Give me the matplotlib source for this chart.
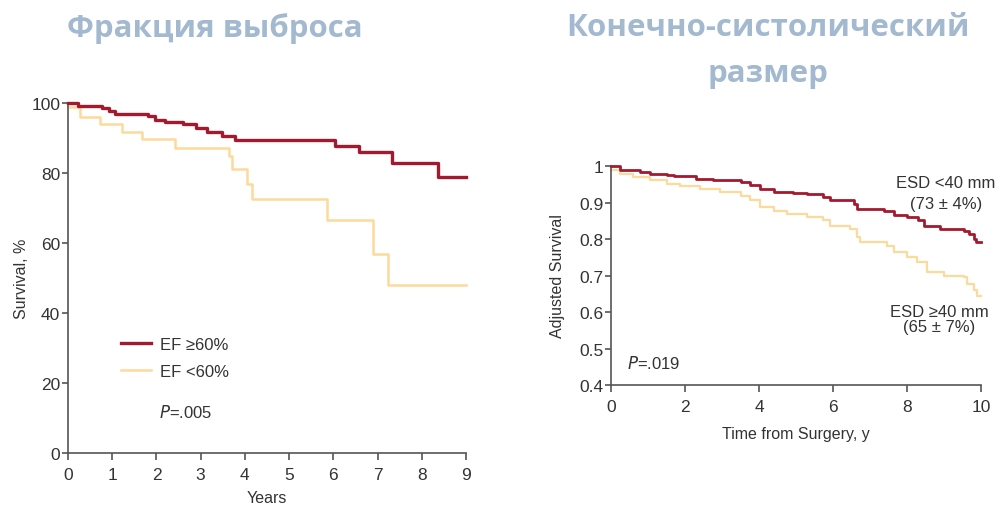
import matplotlib
matplotlib.use('Agg')
import matplotlib.pyplot as plt

plt.rcParams['font.family'] = ['Liberation Sans Narrow', 'Liberation Sans', 'DejaVu Sans']

# Left panel: ejection fraction (Kaplan-Meier steps)
ef_hi_t = [0, 0.22, 0.77, 0.92, 1.07, 1.82, 1.97, 2.2, 2.6, 2.9, 3.14, 3.48, 3.78, 6.04, 6.57, 7.32, 8.37, 9]
ef_hi_s = [100, 99.2, 98.6, 97.8, 96.9, 96.2, 95.3, 94.6, 94.0, 93.0, 91.7, 90.6, 89.5, 87.8, 86.0, 83.0, 78.8, 78.8]
ef_lo_t = [0, 0.28, 0.73, 1.22, 1.67, 2.42, 3.63, 3.7, 4.04, 4.15, 5.85, 6.9, 7.24, 9]
ef_lo_s = [98.8, 95.9, 94.0, 91.8, 89.7, 87.3, 85.0, 81.2, 77.0, 72.6, 66.5, 57.0, 47.9, 47.9]

# Right panel: end-systolic dimension (adjusted survival)
esd_lo_t = [0, 0.24, 0.78, 1.05, 1.5, 1.7, 2.3, 2.77, 3.5, 3.76, 4.03, 4.4, 4.93, 5.3, 5.74, 5.92,
            6.56, 6.65, 7.37, 7.64, 8.0, 8.31, 8.45, 8.9, 9.53, 9.67, 9.8, 9.87, 10]
esd_lo_s = [1.0, 0.99, 0.984, 0.979, 0.976, 0.973, 0.965, 0.961, 0.956, 0.949, 0.938, 0.93, 0.926, 0.922,
            0.915, 0.906, 0.897, 0.883, 0.876, 0.866, 0.86, 0.851, 0.837, 0.828, 0.823, 0.814, 0.80, 0.791, 0.791]
esd_hi_t = [0, 0.24, 0.6, 1.05, 1.5, 1.87, 2.4, 2.95, 3.5, 3.76, 4.03, 4.4, 4.75, 5.3, 5.74, 5.92, 6.47,
            6.65, 6.74, 7.46, 7.64, 8.0, 8.27, 8.54, 8.99, 9.53, 9.62, 9.8, 9.89, 10]
esd_hi_s = [0.988, 0.979, 0.97, 0.961, 0.952, 0.945, 0.936, 0.929, 0.919, 0.906, 0.887, 0.878, 0.869,
            0.86, 0.851, 0.837, 0.828, 0.805, 0.791, 0.782, 0.764, 0.75, 0.737, 0.709, 0.70, 0.695, 0.677,
            0.659, 0.645, 0.645]

RED = '#a31a2f'
YEL = '#fdd99b'
AX = '#555555'
TXT = '#333333'
TITLE = '#a2b9d0'

fig = plt.figure(figsize=(10, 5.1), dpi=100)


def style(ax):
    for s in ['top', 'right']:
        ax.spines[s].set_visible(False)
    for s in ['left', 'bottom']:
        ax.spines[s].set_color(AX)
        ax.spines[s].set_linewidth(1.2)
    ax.tick_params(colors=AX, labelcolor=TXT, labelsize=12.5, width=1.2)
    ax.tick_params(axis='x', length=5, pad=5)
    ax.tick_params(axis='y', length=4.5, pad=1)


# left chart
ax1 = fig.add_axes([0.068, 0.1098, 0.398, 0.686])
ax1.step(ef_hi_t, ef_hi_s, where='post', color=RED, lw=2.4, clip_on=False, zorder=3, label='EF ≥60%')
ax1.step(ef_lo_t, ef_lo_s, where='post', color=YEL, lw=1.8, clip_on=False, zorder=2, label='EF <60%')
ax1.set_xlim(0, 9)
ax1.set_ylim(0, 100)
ax1.set_xticks(range(10))
ax1.set_yticks(range(0, 101, 20))
style(ax1)
ax1.set_ylabel('Survival, %', fontsize=11.5, color=TXT, labelpad=2)
ax1.set_xlabel('Years', fontsize=11.5, color=TXT, labelpad=6)
ax1.legend(loc='upper left', bbox_to_anchor=(0.095, 0.375), frameon=False, fontsize=12,
           handlelength=1.8, handletextpad=0.55, labelcolor=TXT, labelspacing=0.75)
ax1.text(0.228, 0.12, '$P$=.005', transform=ax1.transAxes, fontsize=12, color=TXT, va='center')

# right chart
ax2 = fig.add_axes([0.611, 0.2431, 0.370, 0.4294])
ax2.step(esd_lo_t, esd_lo_s, where='post', color=RED, lw=2.0, clip_on=False, zorder=3)
ax2.step(esd_hi_t, esd_hi_s, where='post', color=YEL, lw=1.6, clip_on=False, zorder=2)
ax2.set_xlim(0, 10)
ax2.set_ylim(0.4, 1.0)
ax2.set_xticks(range(0, 11, 2))
ax2.set_yticks([0.4, 0.5, 0.6, 0.7, 0.8, 0.9, 1.0])
ax2.set_yticklabels(['0.4', '0.5', '0.6', '0.7', '0.8', '0.9', '1'])
style(ax2)
ax2.set_ylabel('Adjusted Survival', fontsize=11.5, color=TXT, labelpad=10)
ax2.set_xlabel('Time from Surgery, y', fontsize=11.5, color=TXT, labelpad=9)
ax2.text(0.044, 0.105, '$P$=.019', transform=ax2.transAxes, fontsize=12, color=TXT, va='center')

fig.text(0.946, 0.641, 'ESD <40 mm', fontsize=12, color=TXT, ha='center', va='center')
fig.text(0.946, 0.600, '(73 ± 4%)', fontsize=12, color=TXT, ha='center', va='center')
fig.text(0.939, 0.388, 'ESD ≥40 mm', fontsize=12, color=TXT, ha='center', va='center')
fig.text(0.939, 0.357, '(65 ± 7%)', fontsize=12, color=TXT, ha='center', va='center')

# titles
tkw = dict(fontsize=22.5, color=TITLE, fontweight='bold', family=['Open Sans', 'DejaVu Sans'],
           ha='center', va='center')
fig.text(0.215, 0.945, 'Фракция выброса', **tkw)
fig.text(0.768, 0.945, 'Конечно-систолический', **tkw)
fig.text(0.768, 0.855, 'размер', **tkw)

fig.savefig('out.png', dpi=100)
